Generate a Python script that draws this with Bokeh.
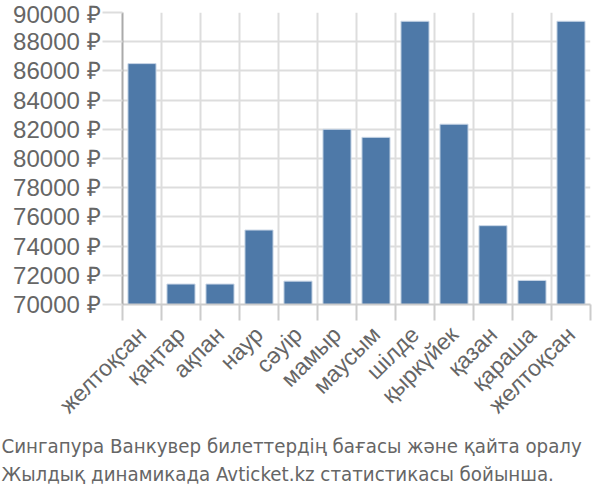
from bokeh.plotting import figure
from bokeh.models import Range1d, FixedTicker, PrintfTickFormatter, Title
from bokeh.embed import file_html
from bokeh.resources import INLINE

months = ["желтоқсан", "қаңтар", "ақпан", "наур", "сәуір", "мамыр", "маусым",
          "шілде", "қыркүйек", "қазан", "қараша", "желтоқсан"]
prices = [86500, 71400, 71400, 75100, 71600, 82000, 81450, 89400, 82350, 75400, 71650, 89400]
y_ticks = list(range(70000, 90001, 2000))
title_lines = ["Сингапура Ванкувер билеттердің бағасы және қайта оралу",
               "Жылдық динамикада Avticket.kz статистикасы бойынша."]

n = len(months)
centers = [i + 0.5 for i in range(n)]
bounds = list(range(n + 1))

p = figure(width=592, height=492, output_backend="svg", toolbar_location=None,
           x_range=Range1d(0, n), y_range=Range1d(70000, 90000),
           min_border_left=122, min_border_right=2, min_border_top=12, min_border_bottom=188)
p.outline_line_color = None

p.vbar(x=centers, top=prices, bottom=70000, width=0.72,
       fill_color="#4e79a8", line_color="#c9d6e6", line_width=1)

# x axis
p.xaxis.ticker = FixedTicker(ticks=centers, minor_ticks=bounds)
p.xaxis.major_label_overrides = {c: m for c, m in zip(centers, months)}
p.xaxis.major_label_orientation = 0.785398
p.xaxis.major_tick_out = 0
p.xaxis.major_tick_in = 0
p.xaxis.minor_tick_out = 16
p.xaxis.minor_tick_in = 0
p.xaxis.minor_tick_line_color = "#cccccc"
p.xaxis.minor_tick_line_width = 2
p.xaxis.axis_line_color = "#cccccc"
p.xaxis.axis_line_width = 2
p.xaxis.major_label_standoff = 10
p.xaxis.major_label_text_font = "Liberation Sans"
p.xaxis.major_label_text_font_size = "23px"
p.xaxis.major_label_text_color = "#666666"
p.xgrid.ticker = FixedTicker(ticks=bounds)
p.xgrid.grid_line_color = "#dddddd"
p.xgrid.grid_line_width = 2

# y axis
p.yaxis.ticker = FixedTicker(ticks=y_ticks)
p.yaxis.formatter = PrintfTickFormatter(format="%d ₽")
p.yaxis.major_tick_out = 20
p.yaxis.major_tick_in = 0
p.yaxis.major_tick_line_color = "#dddddd"
p.yaxis.major_tick_line_width = 2
p.yaxis.minor_tick_line_color = None
p.yaxis.axis_line_color = "#aaaaaa"
p.yaxis.axis_line_width = 2
p.yaxis.major_label_standoff = 2
p.yaxis.major_label_text_font = "Liberation Sans"
p.yaxis.major_label_text_font_size = "24px"
p.yaxis.major_label_text_color = "#666666"
p.ygrid.grid_line_color = "#dddddd"
p.ygrid.grid_line_width = 2

for i, line in enumerate(title_lines):
    t = Title(text=line, align="left", text_font="DejaVu Sans Condensed, Liberation Sans",
              text_font_size="20.3px", text_font_style="normal", text_color="#666666",
              standoff=2 if i == 0 else 3, offset=-121)
    p.add_layout(t, "below")

open("out.html", "w").write(file_html(p, INLINE))
